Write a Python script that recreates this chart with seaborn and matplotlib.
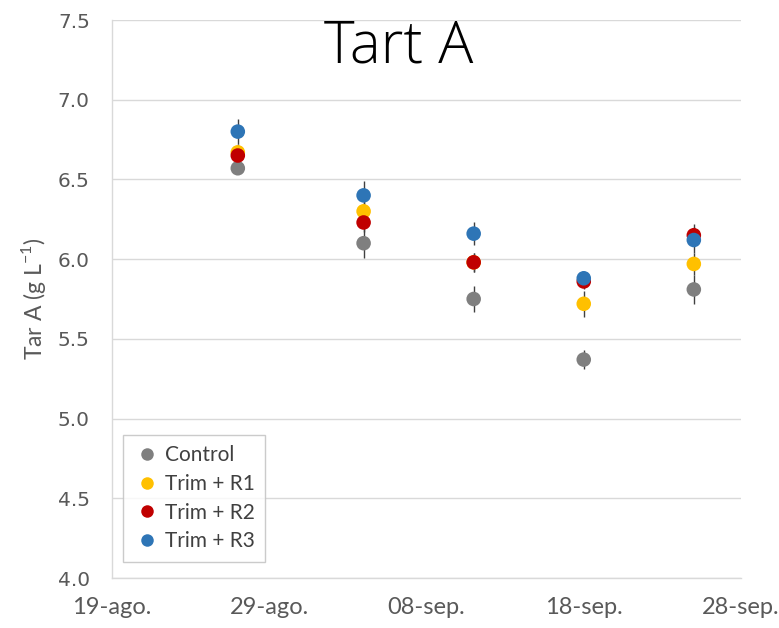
import matplotlib
matplotlib.use("Agg")
import matplotlib.pyplot as plt
import matplotlib.dates as mdates
from matplotlib.ticker import FuncFormatter, MultipleLocator
from matplotlib.lines import Line2D
import numpy as np
import pandas as pd
import seaborn as sns

# Sampling dates and treatment means / errors of tartaric acid
dates = ["2017-08-27", "2017-09-04", "2017-09-11", "2017-09-18", "2017-09-25"]
treatments = ["Control", "Trim + R1", "Trim + R2", "Trim + R3"]
control = [6.57, 6.10, 5.75, 5.37, 5.81]
trim_r1 = [6.67, 6.30, 5.98, 5.72, 5.97]
trim_r2 = [6.65, 6.23, 5.98, 5.86, 6.15]
trim_r3 = [6.80, 6.40, 6.16, 5.88, 6.12]
err_control = [0.03, 0.09, 0.08, 0.06, 0.09]
err_r1 = [0.05, 0.06, 0.06, 0.08, 0.07]
err_r2 = [0.05, 0.06, 0.06, 0.05, 0.07]
err_r3 = [0.08, 0.09, 0.07, 0.04, 0.08]
x_ticks = ["2017-08-19", "2017-08-29", "2017-09-08", "2017-09-18", "2017-09-28"]
colors = ["#7F7F7F", "#FFC000", "#C00000", "#2E75B6"]

values = [control, trim_r1, trim_r2, trim_r3]
errors = [err_control, err_r1, err_r2, err_r3]

df = pd.DataFrame({
    "date": np.tile(pd.to_datetime(dates), len(treatments)),
    "value": np.concatenate(values),
    "err": np.concatenate(errors),
    "treatment": np.repeat(treatments, len(dates)),
})

sns.set_theme(style="white")
fig = plt.figure(figsize=(7.79, 6.28), dpi=100)
ax = fig.add_axes([112 / 779, 1 - 578 / 628, (741 - 112) / 779, (578 - 20) / 628])

# error bars behind the markers
for t, c in zip(treatments, colors):
    sub = df[df.treatment == t]
    ax.errorbar(mdates.date2num(sub.date), sub.value, yerr=sub.err, fmt="none",
                ecolor="#404040", elinewidth=1.0, capsize=0, zorder=1)

sns.scatterplot(data=df, x="date", y="value", hue="treatment", hue_order=treatments,
                palette=colors, s=110, edgecolor="none", linewidth=0, ax=ax,
                legend=False, zorder=3)

# axes limits and ticks
ax.set_xlim(mdates.date2num(pd.Timestamp(x_ticks[0])), mdates.date2num(pd.Timestamp(x_ticks[-1])))
ax.set_ylim(4.0, 7.5)
ax.yaxis.set_major_locator(MultipleLocator(0.5))
ax.set_xticks(mdates.date2num(pd.to_datetime(x_ticks)))

meses = {8: "ago", 9: "sep"}
ax.xaxis.set_major_formatter(FuncFormatter(
    lambda v, p: "{:02d}-{}.".format(mdates.num2date(v).day, meses[mdates.num2date(v).month])))
ax.yaxis.set_major_formatter(FuncFormatter(lambda v, p: f"{v:.1f}"))

ax.grid(axis="y", color="#D9D9D9", linewidth=1.0)
ax.grid(axis="x", visible=False)
ax.set_axisbelow(True)
for s in ["top", "right"]:
    ax.spines[s].set_visible(False)
for s in ["left", "bottom"]:
    ax.spines[s].set_color("#D9D9D9")
    ax.spines[s].set_linewidth(1.0)

ax.tick_params(axis="both", length=0, colors="#595959")
for lab in ax.get_yticklabels():
    lab.set_fontfamily("DejaVu Sans")
    lab.set_fontsize(14.5)
ax.tick_params(axis="y", pad=16)
for lab in ax.get_xticklabels():
    lab.set_fontfamily("Lato")
    lab.set_fontsize(17)
ax.tick_params(axis="x", pad=14)

ax.set_xlabel("")
ax.set_ylabel("Tar A (g L$^{\\mathregular{-1}}$)", fontsize=16.5, color="#595959",
              family="Lato", labelpad=7)

fig.text(0.512, 0.925, "Tart A", ha="center", va="center", fontsize=42,
         family="Open Sans", fontweight="light", color="black")

handles = [Line2D([0], [0], marker="o", linestyle="none", markersize=9,
                  markerfacecolor=c, markeredgecolor="none") for c in colors]
leg = ax.legend(handles, treatments, loc="lower left", bbox_to_anchor=(0.0175, 0.029),
                borderaxespad=0, frameon=True, fancybox=False, handletextpad=0.15,
                handlelength=1.35, labelspacing=0.42, borderpad=0.5,
                prop={"family": "Lato", "size": 15})
leg.get_frame().set_edgecolor("#BFBFBF")
leg.get_frame().set_linewidth(1.0)
for txt in leg.get_texts():
    txt.set_color("#404040")

fig.savefig("out.png", dpi=100)
